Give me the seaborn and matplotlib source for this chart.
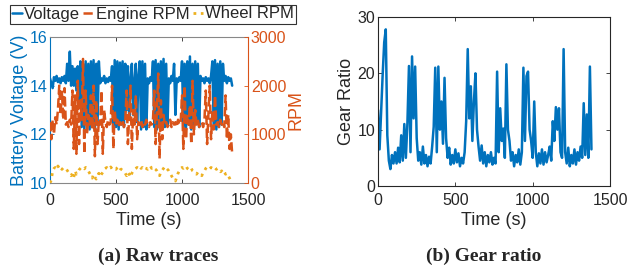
import seaborn as sns
import matplotlib.pyplot as plt
import numpy as np

# -----------------------------
# Data (10 s sampling grid, 0..1380 s)
# -----------------------------
time_s = np.arange(0, 1390, 10)

voltage = [
    14.3, 14.1, 13.9, 14.35, 14.2, 14.4, 14.15, 14.3, 14.1, 14.35, 14.2, 14.4,
    14.1, 14.9, 14.2, 15.4, 14.0,
    14.8, 14.0, 14.7, 13.8, 14.8, 13.2,
    15.0, 12.3, 14.9, 12.2, 15.0, 12.4, 14.9, 12.2, 15.0, 12.3, 15.05, 12.2, 14.9, 12.4, 15.0,
    14.1, 14.3, 14.2, 14.4, 14.1, 14.3, 14.15, 14.35, 14.2, 14.8,
    12.2, 15.05, 12.3, 15.0, 12.2, 14.95, 12.4, 15.0, 12.3,
    14.9, 13.0, 14.8, 12.6, 14.3, 14.9, 12.8, 14.2, 14.9, 12.5, 14.4,
    15.0, 12.2, 15.0, 12.3, 14.9, 12.2,
    14.3, 14.1, 14.35, 14.2,
    15.0, 12.3, 15.05, 12.2, 14.9, 12.4, 15.0, 12.2, 15.1, 12.3, 14.9, 12.4,
    14.3, 14.1, 14.4, 14.2, 14.9, 12.8, 14.3, 14.15, 14.35, 14.2,
    15.0, 12.3, 14.9, 12.2, 15.0, 12.4, 15.2, 12.2, 14.9, 12.3, 15.0, 12.5, 14.9, 12.3,
    14.4, 14.2, 14.3, 14.1, 14.35, 14.2, 14.3, 14.1, 14.4,
    15.0, 12.3, 15.05, 12.2, 14.9, 12.3, 15.0, 12.4, 14.9,
    14.2, 14.4, 14.1, 14.35, 14.2, 14.3, 14.0,
]

engine_rpm = [
    1250, 900, 1300, 1000, 1350, 1200,
    1500, 2000, 1400, 1900, 1300, 1950,
    1200, 1250, 1150, 1300, 1200,
    1900, 700, 1800, 600, 2100, 800,
    1700, 1300, 2550, 600, 1900,
    1000, 1400, 1200, 1800, 1100,
    2000, 550, 1700, 800, 1300,
    1200, 1900, 600, 1500, 1250, 1150, 1300, 1200, 1250, 2000,
    700, 1500, 1200, 1300, 1150, 1250, 1200, 1300, 1150,
    1250, 1900, 800, 1400, 2000, 700, 1500, 1200, 1800, 900, 1250,
    1200, 1300, 1150, 1250, 1200, 1300,
    1200, 1150, 1250, 1200,
    1300, 1900, 800, 1500, 2250, 500, 1700, 900, 1400, 1200, 1250, 1150,
    1200, 1300, 1150, 1250, 1200, 1250, 1150, 1300, 1200, 1250,
    1800, 700, 2000, 900, 1400, 1200, 1600, 800, 2100, 1000, 1500, 1200, 1300, 1150,
    1200, 1250, 1150, 1300, 1900, 800, 1400, 2000, 900,
    1500, 1100, 1800, 1200, 1250, 1150, 1300, 1200, 1250,
    1150, 1800, 900, 1400, 700, 1000, 600,
]

wheel_rpm = [
    0, 60, 250, 300, 320, 280,
    350, 300, 330, 280, 310, 290,
    300, 260, 220, 180, 150,
    200, 120, 250, 180, 220, 270,
    300, 330, 310, 290, 320,
    300, 250, 200, 150, 100,
    180, 120, 80, 150, 200,
    130, 180, 220, 280, 300, 320, 280, 300, 330, 290,
    310, 300, 280, 320, 350, 300, 280, 260, 230,
    200, 150, 220, 180, 120, 200, 250, 280, 300, 320, 300,
    340, 300, 320, 280, 310, 300,
    280, 320, 350, 300,
    330, 300, 280, 250, 200, 150, 230, 260, 300, 340, 310, 280,
    250, 200, 150, 100, 80, 40, 120, 200, 250, 300,
    320, 300, 330, 350, 300, 280, 320, 300, 250, 230, 200, 180, 220, 200,
    180, 150, 220, 250, 300, 330, 310, 290, 320,
    300, 330, 310, 280, 300, 260, 230, 250, 200,
    230, 180, 200, 150, 100, 40, 0,
]

gear_ratio = [
    13.5, 6.5, 13, 19.8, 25.5, 27.8, 9, 4.5, 3, 5.5,
    4, 6, 4, 6.8, 4.2, 9, 4.5, 11, 5, 11.2,
    21.3, 6, 23, 12, 21.2, 8.5, 4.5, 6, 3.8, 7,
    4, 5.5, 3.5, 5.2, 4, 7, 10.5, 21, 6, 21.2,
    10, 15, 7.5, 19.2, 8.5, 5, 6.8, 3.8, 5.5, 4,
    6.5, 4.2, 5.8, 3.5, 5, 4, 6, 11.5, 24.3, 12,
    17.7, 8, 15, 20, 10, 7, 4.5, 7.2, 4, 6,
    3.5, 5.5, 4.2, 6, 3.8, 5, 4, 20.3, 6, 13.8,
    8, 10.2, 5, 21.6, 10, 8, 4.5, 6, 3.5, 5.5,
    4.2, 6.5, 3.8, 6, 21, 8, 19.5, 20.3, 10, 8,
    5, 15, 6, 3.5, 5.8, 4, 6.5, 3.8, 6, 4.2,
    5.5, 7, 4.5, 11.5, 8, 14, 10, 13.8, 6, 5,
    24.3, 6, 4, 6.8, 3.5, 5.5, 4, 6.5, 3.8, 6,
    4.5, 7, 5, 14.7, 5.5, 12.7, 5, 21.2, 6.5,
]

BLUE = "#0072BD"
ORANGE = "#D95319"
YELLOW = "#EDB120"
DARK = "#262626"

# -----------------------------
# Figure
# -----------------------------
sns.set_style("ticks")
plt.rcParams["font.family"] = ["Liberation Sans", "DejaVu Sans"]
plt.rcParams["xtick.direction"] = "in"
plt.rcParams["ytick.direction"] = "in"

fig = plt.figure(figsize=(6.29, 2.70), dpi=100)
ax = fig.add_axes([0.0795, 0.3222, 0.3148, 0.5407])
ax2 = ax.twinx()
bx = fig.add_axes([0.601, 0.3111, 0.3688, 0.626])

# (a) raw traces
sns.lineplot(x=time_s, y=voltage, ax=ax, color=BLUE, linewidth=1.8, label="Voltage", legend=False)
sns.lineplot(x=time_s, y=engine_rpm, ax=ax2, color=ORANGE, linewidth=1.8,
             linestyle="--", label="Engine RPM", legend=False)
sns.lineplot(x=time_s, y=wheel_rpm, ax=ax2, color=YELLOW, linewidth=2.0,
             linestyle=":", label="Wheel RPM", legend=False)

ax.set_xlim(0, 1500)
ax.set_xticks([0, 500, 1000, 1500])
ax.set_ylim(10, 16)
ax.set_yticks([10, 12, 14, 16])
ax2.set_ylim(0, 3000)
ax2.set_yticks([0, 1000, 2000, 3000])

ax.set_xlabel("Time (s)", fontsize=13, color=DARK, labelpad=3)
ax.set_ylabel("Battery Voltage (V)", fontsize=13, color=BLUE, labelpad=1)
ax2.set_ylabel("RPM", fontsize=13, color=ORANGE, labelpad=1)

ax.tick_params(axis="x", top=True, colors=DARK, labelsize=11.5, length=3, width=0.6, pad=7)
ax.tick_params(axis="y", colors=BLUE, labelsize=11.5, length=3, width=0.6, pad=2)
ax2.tick_params(axis="y", colors=ORANGE, labelsize=11.5, length=3, width=0.6, pad=2)

for s in ("top", "bottom"):
    ax.spines[s].set_color("#888888")
    ax.spines[s].set_linewidth(0.8)
ax.spines["left"].set_color(BLUE)
ax.spines["right"].set_visible(False)
ax2.spines["left"].set_visible(False)
ax2.spines["top"].set_visible(False)
ax2.spines["bottom"].set_visible(False)
ax2.spines["right"].set_color(ORANGE)

# (b) gear ratio
sns.lineplot(x=time_s, y=gear_ratio, ax=bx, color=BLUE, linewidth=1.8, legend=False)
bx.set_xlim(0, 1500)
bx.set_xticks([0, 500, 1000, 1500])
bx.set_ylim(0, 30)
bx.set_yticks([0, 10, 20, 30])
bx.set_xlabel("Time (s)", fontsize=13, color=DARK, labelpad=3)
bx.set_ylabel("Gear Ratio", fontsize=13, color=DARK, labelpad=2)
bx.tick_params(top=True, right=True, colors=DARK, labelsize=11.5, length=3, width=0.6, pad=5)
bx.tick_params(axis="y", pad=2)
for s in bx.spines.values():
    s.set_color(DARK)
    s.set_linewidth(0.8)

# legend above the left panel
h1, l1 = ax.get_legend_handles_labels()
h2, l2 = ax2.get_legend_handles_labels()
leg = fig.legend(h1 + h2, l1 + l2, loc="center", bbox_to_anchor=(153 / 629, 1 - 14 / 270),
                 ncol=3, fontsize=12, frameon=True, fancybox=False, edgecolor="black",
                 handlelength=0.6, handletextpad=0.15, columnspacing=0.2, borderpad=0.12,
                 borderaxespad=0)
leg.get_frame().set_linewidth(0.8)

# captions
fig.text(158 / 629, 1 - 256 / 270, "(a) Raw traces", ha="center", va="center",
         fontsize=14, fontweight="bold", family=["Liberation Serif", "DejaVu Serif"])
fig.text(484 / 629, 1 - 256 / 270, "(b) Gear ratio", ha="center", va="center",
         fontsize=14, fontweight="bold", family=["Liberation Serif", "DejaVu Serif"])

plt.savefig("out.png", dpi=100)
plt.close()
